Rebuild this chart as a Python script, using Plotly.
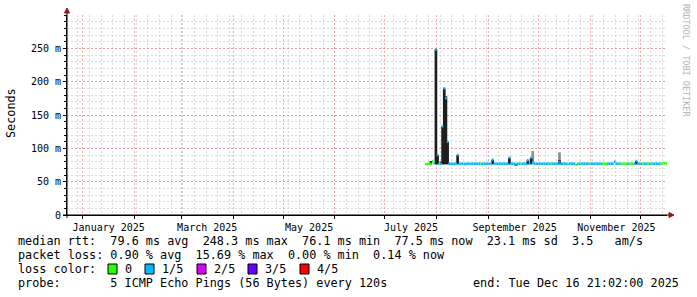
import plotly.graph_objects as go
import pandas as pd

# ---------------- data ----------------
x_start = "2024-12-22 14:20:00"
x_end = "2025-12-16 21:02:00"

first_day = "2025-07-25"
# daily median rtt in ms (Jul 25 .. Dec 16 2025)
median_ms = [
    76.5, 76.5, 77, 77, 81, 78, 248, 90, 77, 77,
    133, 190, 175, 110, 77, 77, 76.5, 77, 77, 90,
    77, 77, 77, 76.5, 77, 77, 77, 77, 77, 77,
    77, 77, 77, 77, 77, 77, 77, 77, 77, 77,
    83, 77, 77, 77, 77, 77, 77, 77, 77, 77,
    86, 77, 77, 77, 75.5, 77, 77, 77, 77, 77,
    77, 82, 77, 86, 78, 77, 77, 77, 77, 77,
    77, 77, 77, 77, 77, 77, 77, 77, 77, 77,
    79, 77, 77, 77, 77, 76.5, 77, 77, 77, 77,
    75.5, 77, 77, 77, 77, 77, 77, 77, 77, 77,
    77, 77, 77, 77, 77, 77, 77, 77, 77, 77,
    77, 77, 77, 80, 77, 77, 77, 77, 77, 77,
    77, 77, 77, 77, 77, 77, 81, 77, 77, 77,
    77, 77, 77, 77, 77, 77, 77, 77, 77, 77,
    77, 77, 77.5, 77.5, 77.5,
]
# loss class per day (0 = 0/5, 1 = 1/5, ...)
loss_class = [
    0, 0, 0, 0, 0, 1, 1, 1, 0, 1,
    1, 1, 1, 1, 1, 1, 1, 1, 1, 1,
    1, 1, 1, 1, 1, 1, 1, 1, 1, 1,
    1, 1, 1, 0, 1, 1, 1, 1, 1, 1,
    1, 1, 1, 1, 1, 1, 1, 1, 1, 1,
    1, 1, 1, 1, 1, 1, 1, 0, 1, 1,
    1, 1, 1, 1, 1, 1, 1, 1, 1, 1,
    1, 1, 1, 1, 1, 0, 1, 1, 1, 1,
    1, 1, 1, 1, 1, 0, 1, 1, 1, 1,
    0, 1, 1, 0, 1, 1, 1, 1, 0, 1,
    1, 1, 1, 1, 1, 1, 0, 0, 0, 1,
    1, 1, 1, 1, 1, 1, 1, 0, 0, 0,
    0, 1, 0, 0, 0, 1, 1, 1, 1, 1,
    0, 1, 1, 0, 1, 0, 1, 1, 1, 1,
    1, 0, 0, 0, 0,
]

# smoke (ping spread) around notable intervals
smoke_dates = ["2025-07-28", "2025-07-31", "2025-08-01", "2025-08-03", "2025-08-04",
               "2025-08-05", "2025-08-06", "2025-08-07", "2025-08-13", "2025-09-03",
               "2025-09-13", "2025-09-17", "2025-09-24", "2025-09-26", "2025-09-27",
               "2025-10-13", "2025-10-13", "2025-11-28"]
smoke_lo = [76, 76, 76, 76, 76, 76, 76, 76, 76, 76, 76, 74.5, 76, 76, 77, 77, 76, 76]
smoke_hi = [81, 249, 90, 80, 133, 190, 178, 110, 90, 83, 86, 77, 82, 86, 96, 94, 82, 81]
smoke_dark = [1, 1, 1, 1, 1, 1, 1, 1, 1, 1, 1, 1, 1, 1, 0, 0, 1, 1]

loss_names = ["0", "1/5", "2/5", "3/5", "4/5"]
loss_colors = ["#26ff00", "#00b8ff", "#dd00ff", "#6a00ff", "#ff0000"]

month_starts = ["2025-%02d-01" % m for m in range(1, 13)]
month_labels = ["January 2025", "", "March 2025", "", "May 2025", "", "July 2025", "",
                "September 2025", "", "November 2025", ""]

y_ticks = [0, 50, 100, 150, 200, 250]
y_labels = ["0", "50 m", "100 m", "150 m", "200 m", "250 m"]

stat_rtt = "median rtt:  79.6 ms avg  248.3 ms max  76.1 ms min  77.5 ms now  23.1 ms sd  3.5   am/s"
stat_loss = "packet loss: 0.90 % avg  15.69 % max  0.00 % min  0.14 % now"
probe_txt = "probe:       5 ICMP Echo Pings (56 Bytes) every 120s"
end_txt = "end: Tue Dec 16 21:02:00 2025"

# ---------------- layout helpers ----------------
W, H = 697, 297
L, T, PW, PH = 67, 15, 600, 200


def px(x):
    return (x - L) / PW


def py(y):
    return (T + PH - y) / PH


def nb(s):
    return s.replace(" ", "\u00a0")


MONO = "DejaVu Sans Mono"
days = pd.date_range(first_day, periods=len(median_ms), freq="D")
one_day = pd.Timedelta(days=1)

fig = go.Figure()

# smoke bars
for dark in (0, 1):
    xs = [pd.Timestamp(d) + pd.Timedelta(hours=12) for d, k in zip(smoke_dates, smoke_dark) if k == dark]
    lo = [l for l, k in zip(smoke_lo, smoke_dark) if k == dark]
    hi = [h for h, k in zip(smoke_hi, smoke_dark) if k == dark]
    fig.add_trace(go.Bar(
        x=xs, base=lo, y=[h - l for h, l in zip(hi, lo)],
        width=86400000 * 1.6,
        marker=dict(color="#1e1e1e" if dark else "#8c8c8c", line=dict(width=0)),
        showlegend=False, hoverinfo="skip"))

# median line coloured by loss
for c, col in enumerate(loss_colors):
    xs, ys = [], []
    for d, m, k in zip(days, median_ms, loss_class):
        if k == c:
            xs += [d, d + one_day, None]
            ys += [m, m, None]
    if xs:
        fig.add_trace(go.Scatter(x=xs, y=ys, mode="lines",
                                 line=dict(color=col, width=2.5),
                                 showlegend=False, hoverinfo="skip"))

shapes = []
# axis extensions and arrows
arrow_col = "#8b1a1a"
shapes.append(dict(type="line", xref="paper", yref="paper",
                   x0=px(67), x1=px(67), y0=py(218), y1=py(12),
                   line=dict(color="black", width=1)))
shapes.append(dict(type="line", xref="paper", yref="paper",
                   x0=px(63), x1=px(669), y0=py(215), y1=py(215),
                   line=dict(color="black", width=1)))
shapes.append(dict(type="path", xref="paper", yref="paper",
                   path="M %f,%f L %f,%f L %f,%f Z" % (px(67), py(8), px(64.5), py(13), px(69.5), py(13)),
                   fillcolor=arrow_col, line=dict(color=arrow_col, width=1)))
shapes.append(dict(type="path", xref="paper", yref="paper",
                   path="M %f,%f L %f,%f L %f,%f Z" % (px(674), py(215), px(669), py(212.5), px(669), py(217.5)),
                   fillcolor=arrow_col, line=dict(color=arrow_col, width=1)))

annotations = []
FS = 11.8


def txt(s, x, y, size=FS, anchor="left", color="black", angle=0):
    annotations.append(dict(text=nb(s), x=px(x), y=py(y), xref="paper", yref="paper",
                            xanchor=anchor, yanchor="middle", showarrow=False,
                            textangle=angle,
                            font=dict(family=MONO, size=size, color=color)))


txt(stat_rtt, 16, 241)
txt(stat_loss, 16, 255)
txt("loss color:", 16, 269)
box_x = [108, 145, 197, 248, 300]
for bx, name, col in zip(box_x, loss_names, loss_colors):
    shapes.append(dict(type="rect", xref="paper", yref="paper",
                       x0=px(bx), x1=px(bx + 9), y0=py(274), y1=py(264),
                       fillcolor=col, line=dict(color="black", width=1)))
    txt(name, bx + 15, 269)
txt(probe_txt, 16, 283)
txt(end_txt, 681, 283, anchor="right")

annotations.append(dict(text="Seconds", x=px(11), y=py(113), xref="paper", yref="paper",
                        xanchor="center", yanchor="middle", showarrow=False, textangle=-90,
                        font=dict(family=MONO, size=FS, color="black")))
annotations.append(dict(text=nb("RRDTOOL / TOBI OETIKER"), x=px(686), y=py(60),
                        xref="paper", yref="paper", xanchor="center", yanchor="middle",
                        showarrow=False, textangle=90,
                        font=dict(family=MONO, size=8.5, color="#b4b4b4")))

major_grid = "rgba(230,110,110,0.55)"
minor_grid = "rgba(190,190,190,0.55)"

fig.update_layout(
    width=W, height=H,
    margin=dict(l=L, r=W - L - PW, t=T, b=H - T - PH, pad=0),
    paper_bgcolor="white", plot_bgcolor="white",
    barmode="overlay", showlegend=False,
    shapes=shapes, annotations=annotations,
    xaxis=dict(
        type="date", range=[x_start, x_end],
        tickmode="array", tickvals=month_starts, ticktext=month_labels,
        ticklabelshift=26,
        showgrid=True, gridcolor=major_grid, griddash="2px,2px", gridwidth=1,
        ticks="outside", ticklen=3, tickcolor="black",
        tickfont=dict(family=MONO, size=10, color="black"),
        showline=True, linecolor="black", linewidth=1, zeroline=False,
        minor=dict(tick0="2024-12-29", dtick=7 * 86400000, showgrid=True,
                   gridcolor=minor_grid, griddash="2px,2px", gridwidth=1, ticks=""),
        fixedrange=True,
    ),
    yaxis=dict(
        range=[0, 300],
        tickmode="array", tickvals=y_ticks, ticktext=y_labels,
        showgrid=True, gridcolor=major_grid, griddash="2px,2px", gridwidth=1,
        ticks="outside", ticklen=3, tickcolor="black",
        tickfont=dict(family=MONO, size=10, color="black"),
        showline=True, linecolor="black", linewidth=1, zeroline=False,
        minor=dict(dtick=10, showgrid=True, gridcolor=minor_grid, griddash="2px,2px",
                   gridwidth=1, ticks="outside", ticklen=2, tickcolor="black"),
        fixedrange=True,
    ),
)

fig.write_html("out.html")
